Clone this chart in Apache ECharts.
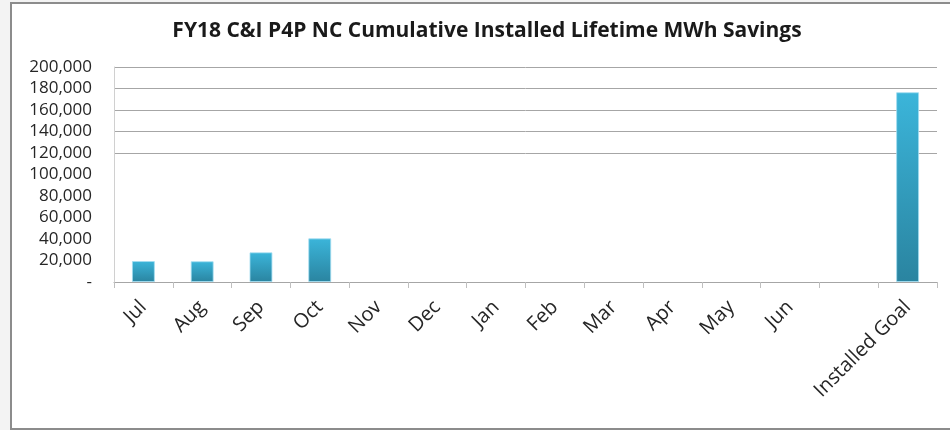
<!DOCTYPE html>
<html><head><meta charset="utf-8">
<script src="https://cdn.jsdelivr.net/npm/echarts@6/dist/echarts.min.js"></script>
<style>html,body{margin:0;padding:0;background:#f3f3f3}#c{width:950px;height:430px}</style>
</head><body><div id="c"></div>
<script>
const titleText = 'FY18 C&I P4P NC Cumulative Installed Lifetime MWh Savings';
const categories = ['Jul','Aug','Sep','Oct','Nov','Dec','Jan','Feb','Mar','Apr','May','Jun',' ','Installed Goal'];
const savings = [19500, 19300, 27600, 40600, null, null, null, null, null, null, null, null, null, 176500];
const yMin = 0, yMax = 200000, yStep = 20000;

const chart = echarts.init(document.getElementById('c'), null, {renderer:'canvas'});
const gridColors = [];
for (let v = yMin; v <= yMax; v += yStep) gridColors.push(v >= 120000 ? '#a6a6a6' : 'rgba(0,0,0,0)');
const font = '"Open Sans", sans-serif';
chart.setOption({
  animation: false,
  backgroundColor: '#f3f3f3',
  graphic: [
    {type:'rect', shape:{x:11, y:3, width:945, height:426}, style:{fill:'#ffffff', stroke:'#8c8c8c', lineWidth:2}, z:-10}
  ],
  title: {
    text: titleText, left: 482, textAlign: 'center', top: 16,
    textStyle: {fontFamily: font, fontSize: 21, fontWeight: 'bold', color: '#1a1a1a'}
  },
  grid: {left: 114, right: 13, top: 67, bottom: 148, containLabel: false},
  xAxis: {
    type: 'category', data: categories,
    axisLine: {lineStyle: {color: '#a6a6a6', width: 1}},
    axisTick: {show: true, length: 6, lineStyle: {color: '#bfbfbf'}},
    axisLabel: {rotate: 45, interval: 0, margin: 22, fontFamily: font, fontSize: 20, color: '#262626'}
  },
  yAxis: {
    type: 'value', min: yMin, max: yMax, interval: yStep,
    axisLine: {show: true, lineStyle: {color: '#d0d0d0'}},
    axisTick: {show: false},
    splitLine: {show: true, lineStyle: {color: gridColors, width: 1}},
    axisLabel: {
      margin: 22, fontFamily: font, fontSize: 17, color: '#262626',
      formatter: v => v === 0 ? '-' : v.toLocaleString('en-US')
    }
  },
  series: [{
    type: 'bar', data: savings, barWidth: '39%',
    itemStyle: {
      color: new echarts.graphic.LinearGradient(0,0,0,1,[{offset:0,color:'#3bb5da'},{offset:1,color:'#2a84a0'}]),
      borderColor: 'rgba(160,220,240,0.8)', borderWidth: 1
    }
  }]
});
</script></body></html>
